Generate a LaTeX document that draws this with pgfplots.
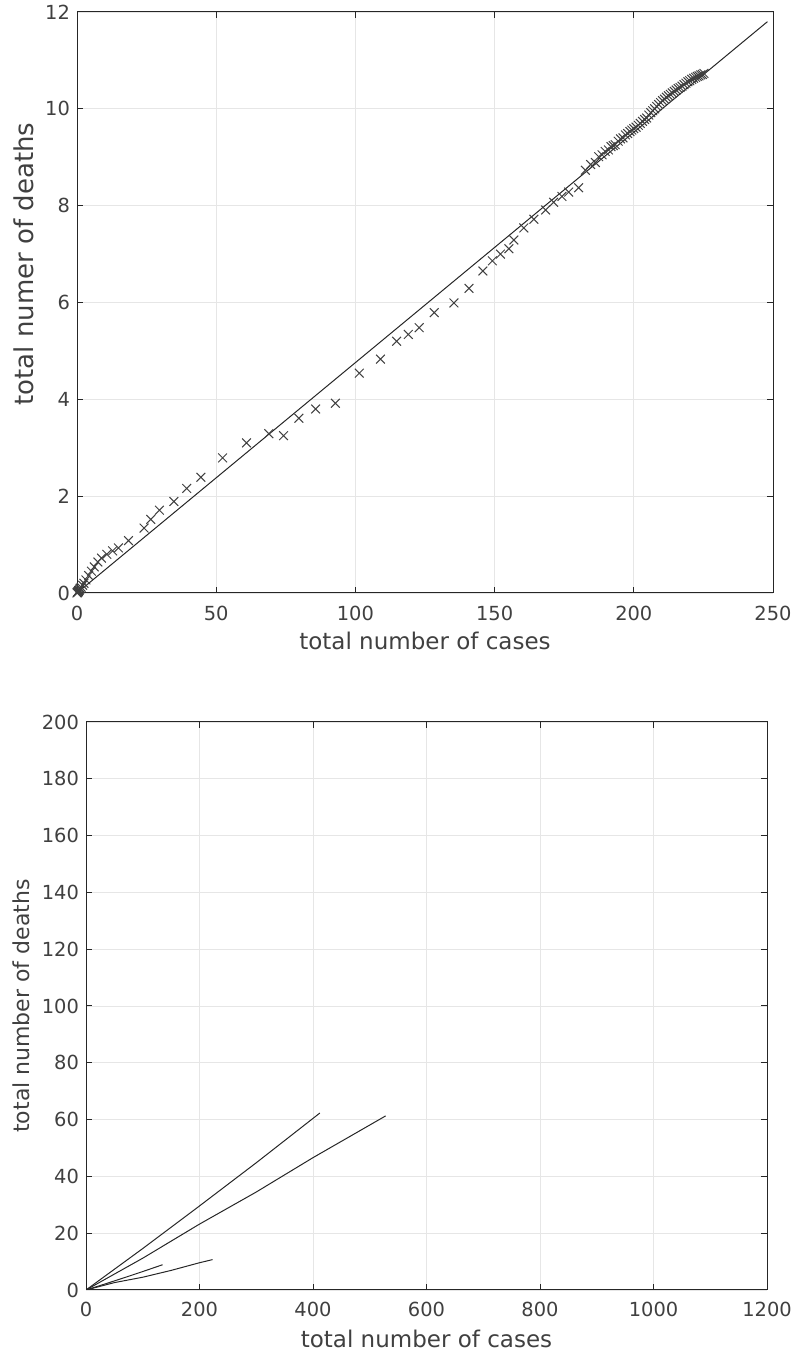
\documentclass[border=0pt]{standalone}
\usepackage{fontspec}
\setmainfont{DejaVu Sans}
\usepackage{pgfplots}
\pgfplotsset{compat=1.18}

\definecolor{axgray}{HTML}{262626}
\definecolor{txtgray}{HTML}{404040}
\definecolor{gridgray}{HTML}{E6E6E6}

\pgfplotsset{
  matlabish/.style={
    scale only axis,
    axis line style={axgray, line width=0.5pt},
    tick style={axgray, line width=0.5pt},
    tick align=inside,
    major tick length=3pt,
    grid=major,
    grid style={gridgray, line width=0.4pt},
    ticklabel style={font=\fontsize{9.7}{10}\selectfont, text=txtgray},
    label style={font=\fontsize{11.5}{12}\selectfont, text=txtgray},
    /pgf/number format/assume math mode=true,
    /pgf/number format/set thousands separator={},
    scaled ticks=false,
  }
}

\begin{document}
\begin{tikzpicture}
\useasboundingbox (0,0) rectangle (397.5pt,676pt);

% upper panel
\begin{axis}[matlabish,
  at={(38.5pt,379.5pt)}, anchor=south west,
  width=348pt, height=290.5pt,
  xmin=0, xmax=250, ymin=0, ymax=12,
  xtick={0,50,...,250}, ytick={0,2,...,12},
  xlabel={total number of cases},
  ylabel={total numer of deaths},
  xticklabel style={yshift=-3pt},
  xlabel style={yshift=1pt},
  ylabel style={at={(ticklabel cs:0.566)}, font=\fontsize{13}{14}\selectfont, yshift=-1pt},
]
\addplot[only marks, mark=x, mark size=3.1pt, color=black!75, mark options={line width=0.5pt}] coordinates {
(0,0) (0.1,0.01) (0.2,0.02) (0.3,0.02) (0.5,0.03) (0.6,0.05) (0.8,0.06)
(1.0,0.08) (1.2,0.10) (1.5,0.12) (2.0,0.16) (2.5,0.20) (3.2,0.27)
(4.2,0.36) (5.2,0.45) (6.2,0.54) (7.5,0.64) (8.8,0.72) (10.7,0.80)
(12.8,0.87) (14.9,0.93) (18.5,1.08) (24.1,1.34) (26.5,1.52) (29.6,1.71)
(34.8,1.89) (39.4,2.16) (44.5,2.39) (52.3,2.79) (60.9,3.10) (68.9,3.29)
(74.2,3.25) (79.7,3.61) (85.7,3.80) (92.8,3.92) (101.4,4.54) (109.0,4.83)
(114.8,5.20) (119.0,5.34) (122.9,5.48) (128.3,5.79) (135.4,5.99)
(140.8,6.29) (145.8,6.65) (149.2,6.86) (152.1,7.00) (155.1,7.11)
(156.9,7.29) (160.5,7.54) (164.1,7.72) (168.3,7.91) (171.2,8.07)
(174.2,8.19) (176.6,8.28) (180.2,8.37) (182.6,8.73) (184.5,8.85)
(186.2,8.89) (187.4,9.01) (188.6,9.05) (189.7,9.12) (190.9,9.15)
(191.8,9.22) (192.6,9.24) (193.3,9.26) (194.4,9.33) (195.2,9.38)
(196.1,9.40) (197.0,9.46) (197.8,9.49) (198.6,9.53) (199.3,9.56)
(200.0,9.59) (200.8,9.62) (201.6,9.66) (202.3,9.70) (203.1,9.74)
(203.9,9.78) (204.6,9.81) (205.4,9.87) (206.1,9.92) (206.8,9.96)
(207.5,10.00) (208.2,10.05) (208.9,10.09) (209.6,10.13) (210.3,10.17)
(211.0,10.20) (211.7,10.24) (212.4,10.27) (213.1,10.30) (213.8,10.33)
(214.5,10.36) (215.2,10.39) (215.9,10.42) (216.6,10.44) (217.3,10.47)
(218.0,10.50) (218.7,10.53) (219.4,10.56) (220.1,10.58) (220.8,10.61)
(221.5,10.63) (222.2,10.65) (222.8,10.67) (223.4,10.68) (224.0,10.70)
(224.6,10.71) (225.2,10.73)
};
% fitted line
\addplot[black!85, line width=0.5pt] coordinates {(0,0) (248,11.8)};
\end{axis}

% lower panel
\begin{axis}[matlabish,
  at={(43pt,31pt)}, anchor=south west,
  width=340.5pt, height=284pt,
  xmin=0, xmax=1200, ymin=0, ymax=200,
  xtick={0,200,...,1200}, ytick={0,20,...,200},
  xlabel={total number of cases},
  ylabel={total number of deaths},
  xticklabel style={yshift=-2.5pt},
  xlabel style={yshift=0pt},
  ylabel style={font=\fontsize{11}{12}\selectfont, yshift=-1pt},
]
\addplot[black!85, line width=0.5pt] coordinates {(0,0) (100,14.6) (200,29.6) (300,44.8) (412,62.3)};
\addplot[black!85, line width=0.5pt] coordinates {(0,0) (100,11.2) (200,23.2) (300,34.5) (400,46.6) (528,61.3)};
\addplot[black!85, line width=0.5pt] coordinates {(0,0) (30,1.9) (70,4.5) (100,6.5) (135,8.9)};
\addplot[black!85, line width=0.5pt] coordinates {(0,0) (50,2.6) (100,4.5) (150,6.9) (200,9.6) (223,10.7)};
\end{axis}
\end{tikzpicture}
\end{document}
